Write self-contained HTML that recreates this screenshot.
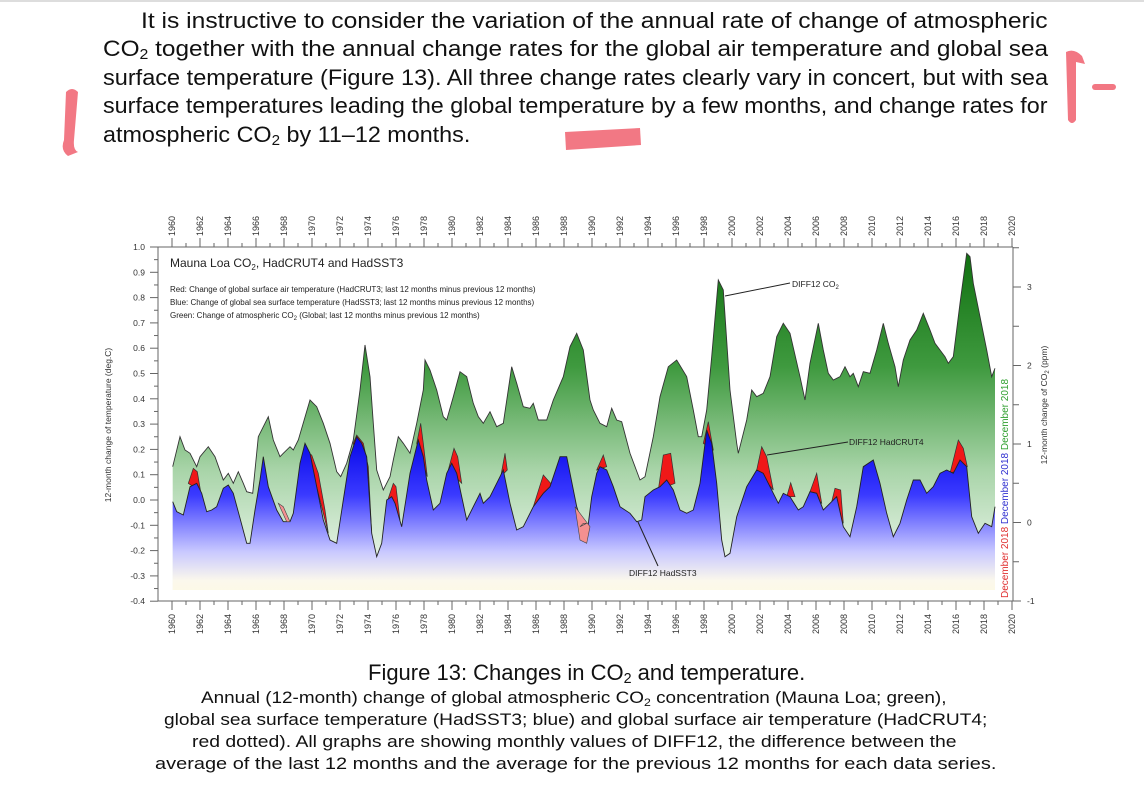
<!DOCTYPE html>
<html><head><meta charset="utf-8"><style>
body{margin:0;background:#fff;width:1144px;height:806px;overflow:hidden;position:relative;font-family:"Liberation Sans",sans-serif}
.ln{position:absolute;white-space:nowrap;transform-origin:0 0;color:#111;font-family:"Liberation Sans",sans-serif;line-height:1}
sub{font-size:65%;vertical-align:-3px;line-height:0}
</style></head><body>
<div style="position:absolute;left:0;top:0;width:1144px;height:2px;background:#ddd"></div>
<div class="ln" data-x="141" data-y="10" data-w="907" style="font-size:22px">It is instructive to consider the variation of the annual rate of change of atmospheric</div>
<div class="ln" data-x="103" data-y="38" data-w="945" style="font-size:22px">CO<sub>2</sub> together with the annual change rates for the global air temperature and global sea</div>
<div class="ln" data-x="103" data-y="67" data-w="945" style="font-size:22px">surface temperature (Figure 13). All three change rates clearly vary in concert, but with sea</div>
<div class="ln" data-x="103" data-y="95" data-w="945" style="font-size:22px">surface temperatures leading the global temperature by a few months, and change rates for</div>
<div class="ln" data-x="103" data-y="124" data-w="367" style="font-size:22px">atmospheric CO<sub>2</sub> by 11–12 months.</div>
<div class="ln" data-x="368" data-y="662" data-w="437" style="font-size:22px">Figure 13: Changes in CO<sub>2</sub> and temperature.</div>
<div class="ln" data-x="201" data-y="689" data-w="746" style="font-size:17px">Annual (12-month) change of global atmospheric CO<sub>2</sub> concentration (Mauna Loa; green),</div>
<div class="ln" data-x="164" data-y="711" data-w="823" style="font-size:17px">global sea surface temperature (HadSST3; blue) and global surface air temperature (HadCRUT4;</div>
<div class="ln" data-x="192" data-y="733" data-w="765" style="font-size:17px">red dotted). All graphs are showing monthly values of DIFF12, the difference between the</div>
<div class="ln" data-x="155" data-y="755" data-w="841" style="font-size:17px">average of the last 12 months and the average for the previous 12 months for each data series.</div>
<svg style="position:absolute;left:0;top:0" width="1144" height="806">
<g fill="#f0606e" opacity="0.85">
<path d="M66,92 Q72,86 78,92 L74,140 Q73,150 78,152 L68,156 Q60,150 64,140 Z"/>
<path d="M1066,52 Q1074,48 1082,56 L1085,64 L1076,62 L1076,120 Q1072,126 1068,120 Z"/>
<rect x="1092" y="84" width="24" height="6" rx="3"/>
<path d="M565,132 L640,128 L641,145 L566,150 Z"/>
</g>
<defs>
<linearGradient id="gg" x1="0" y1="247" x2="0" y2="590" gradientUnits="userSpaceOnUse">
<stop offset="0" stop-color="#0e6e0e"/><stop offset="0.35" stop-color="#3f9a3f"/><stop offset="0.65" stop-color="#a8d4a8"/><stop offset="0.9" stop-color="#e4f2e4"/><stop offset="1" stop-color="#f6fbf2"/></linearGradient>
<linearGradient id="bg" x1="0" y1="430" x2="0" y2="592" gradientUnits="userSpaceOnUse">
<stop offset="0" stop-color="#0000e6"/><stop offset="0.4" stop-color="#3a3aff"/><stop offset="0.75" stop-color="#c8c8ff"/><stop offset="0.93" stop-color="#fbf8ec"/><stop offset="1" stop-color="#fdf9e6"/></linearGradient>
</defs>
<g id="plot"></g>
<g id="axes" font-family="Liberation Sans,sans-serif" fill="#333"></g>
</svg>
<script>
document.querySelectorAll('.ln').forEach(function(e){var w=e.scrollWidth;e.style.left=e.dataset.x+'px';e.style.top=e.dataset.y+'px';e.style.transform='scaleX('+(e.dataset.w/w)+')';});
function cv(a,ox){var r=[];for(var i=0;i<a.length;i+=2)r.push([ox+a[i]/3,190+a[i+1]/3]);return r;}
var g=cv([248,830,270,740,285,780,300,790,320,830,330,800,355,770,375,800,400,870,415,850,430,880,445,845,460,880,470,905,488,910,505,740,535,680,550,750,570,800,580,790,600,770,610,780,625,750,660,630,680,650,700,700,720,760,740,845,752,860,770,820,790,750,810,600,825,465,840,560,850,700,860,840,880,900,900,860,910,810,925,740,940,760,960,790,980,700,1000,600,1005,510,1020,540,1040,600,1060,680,1070,690,1090,620,1110,545,1130,560,1150,640,1165,680,1180,700,1200,665,1220,710,1240,700,1265,530,1280,580,1300,650,1320,655,1330,640,1345,690,1370,690,1390,630,1420,560,1440,470,1460,430,1480,480,1500,630],90)
.concat(cv([40,660,60,700,80,710,95,655,110,690,125,695,150,790,180,870,195,860,220,740,240,620,265,530,290,510,320,560,340,660,355,740,365,740,380,660,395,500,415,270,430,300,450,600,470,760,475,790,500,690,515,600,530,620,550,610,570,560,590,440,610,400,630,430,660,560,675,630,690,520,715,400,730,480,745,550,760,570,780,560,795,530,810,560,820,550,835,590,850,545,870,550,890,480,910,400,925,460,945,530,955,590,970,510,990,450,1010,420,1030,370,1050,420,1065,460,1080,480,1095,500,1105,520,1120,500,1140,340,1160,190,1170,200,1180,280,1200,380,1220,480,1235,560,1245,535],580));
var b=cv([248,935,260,965,280,975,300,890,320,880,335,910,350,965,365,960,380,950,400,895,415,885,430,910,450,985,470,1060,480,1060,495,960,510,870,520,800,535,890,560,960,580,995,600,995,610,970,630,820,645,760,660,790,680,890,700,990,720,1050,740,1060,760,930,780,800,800,740,815,760,830,800,845,1030,860,1100,875,1060,890,930,905,920,915,940,935,1010,960,850,985,750,1000,800,1010,870,1030,960,1050,940,1070,850,1085,820,1100,850,1130,990,1150,950,1170,910,1180,940,1200,920,1230,860,1240,840,1260,940,1280,1020,1300,1010,1330,950,1360,910,1380,890,1410,800,1430,800,1460,950,1490,1040],90)
.concat(cv([35,920,50,850,60,830,80,840,100,890,120,950,150,970,170,995,185,990,195,920,220,900,240,890,260,870,280,900,300,960,320,970,340,960,360,880,380,720,395,760,410,880,425,1050,435,1100,450,1090,470,980,500,890,530,840,550,850,570,890,595,940,610,910,630,920,655,960,670,950,690,905,710,910,730,960,750,940,770,920,790,1010,810,1040,830,950,850,830,880,810,900,880,920,970,940,1040,960,1000,980,930,1000,870,1020,870,1040,910,1060,890,1080,850,1100,840,1120,850,1140,810,1160,830,1175,980,1195,1030,1215,1000,1235,1010,1245,950],580));
var bumps=[[90,[295,880,310,835,322,845,332,905]],[90,[655,790,665,795,685,850,705,960,715,1030]],[90,[790,760,800,735,820,760,835,830,845,1030]],[90,[895,925,910,880,918,890,930,990]],[90,[980,760,992,700,1000,760,1012,860]],[90,[1075,840,1092,775,1103,800,1115,880]],[90,[1232,860,1245,790,1252,840]],[90,[1330,950,1360,855,1382,880,1395,880]],[580,[50,840,70,795,80,830]],[580,[235,900,250,795,272,790,285,880]],[580,[370,760,385,695,400,780]],[580,[530,840,545,770,560,800,580,900]],[580,[620,920,632,878,645,920]],[580,[690,905,710,850,725,940]],[580,[755,935,765,895,782,900,790,1000]],[580,[1110,850,1135,750,1150,775,1162,830]]];
var pink=[[90,[565,940,580,950,600,995,590,995]],[90,[1455,950,1470,1050,1490,1060,1500,1010]],[580,[0,1010,10,1000,20,1000]]];
var B=590;
function poly(p){var s='M'+p[0][0]+','+B;p.forEach(function(q){s+=' L'+q[0].toFixed(1)+','+q[1].toFixed(1)});return s+' L'+p[p.length-1][0].toFixed(1)+','+B+' Z';}
function line(p){var s='M';p.forEach(function(q,i){s+=(i?' L':'')+q[0].toFixed(1)+','+q[1].toFixed(1)});return s;}
var h='<path d="'+poly(g)+'" fill="url(#gg)"/><path d="'+line(g)+'" fill="none" stroke="#333" stroke-width="0.9"/>';
bumps.forEach(function(bb){var p=cv(bb[1],bb[0]);h+='<path d="'+line(p)+' Z" fill="#f01818" stroke="#333" stroke-width="0.7"/>';});
h+='<path d="'+poly(b)+'" fill="url(#bg)"/><path d="'+line(b)+'" fill="none" stroke="#222" stroke-width="0.9"/>';
pink.forEach(function(bb){var p=cv(bb[1],bb[0]);h+='<path d="'+line(p)+' Z" fill="#f49090" stroke="#444" stroke-width="0.6"/>';});
document.getElementById('plot').innerHTML=h;
var a='';
var L=158,R=1013,T=247,Bt=601;
a+='<path d="M'+L+','+T+' L'+L+','+Bt+' M'+R+','+T+' L'+R+','+Bt+' M'+L+','+T+' L'+R+','+T+' M'+L+','+Bt+' L'+R+','+Bt+'" stroke="#666" stroke-width="1" fill="none"/>';
for(var i=0;i<=14;i++){var v=1-i*0.1,y=T+i*25.3;a+='<line x1="'+(L-8)+'" x2="'+L+'" y1="'+y+'" y2="'+y+'" stroke="#666"/>';if(i<14)a+='<line x1="'+(L-4)+'" x2="'+L+'" y1="'+(y+12.65)+'" y2="'+(y+12.65)+'" stroke="#666"/>';a+='<text x="'+(L-13)+'" y="'+(y+3)+'" font-size="8.5" text-anchor="end">'+(Math.abs(v)<1e-9?'0.0':v.toFixed(1))+'</text>';}
var vals=[3,2,1,0,-1];for(var k=0;k<5;k++){var y=287+k*78.5;a+='<line x1="'+R+'" x2="'+(R+8)+'" y1="'+y+'" y2="'+y+'" stroke="#666"/>';a+='<text x="'+(R+14)+'" y="'+(y+3)+'" font-size="8.5">'+vals[k]+'</text>';}
for(var k=0;k<8;k++){var y=287-39.25+k*78.5;if(y>T&&y<Bt)a+='<line x1="'+R+'" x2="'+(R+6)+'" y1="'+y+'" y2="'+y+'" stroke="#666"/>';}
for(var yr=1960;yr<=2020;yr++){var x=172+(yr-1960)*14;var mj=yr%2==0;a+='<line x1="'+x+'" x2="'+x+'" y1="'+(T-(mj?9:4))+'" y2="'+T+'" stroke="#666"/><line x1="'+x+'" x2="'+x+'" y1="'+Bt+'" y2="'+(Bt+(mj?9:4))+'" stroke="#666"/>';
if(mj){a+='<text transform="translate('+(x+3)+',236) rotate(-90)" font-size="9">'+yr+'</text>';a+='<text transform="translate('+(x+3)+',614) rotate(-90)" font-size="9" text-anchor="end">'+yr+'</text>';}}
a+='<text transform="translate(111,425) rotate(-90)" font-size="8.5" text-anchor="middle">12-month change of temperature (deg.C)</text>';
a+='<text transform="translate(1047,405) rotate(-90)" font-size="8.5" text-anchor="middle">12-month change of CO<tspan font-size="6" dy="2">2</tspan><tspan dy="-2"> (ppm)</tspan></text>';
a+='<text transform="translate(1008,598) rotate(-90)" font-size="10"><tspan fill="#e03030">December 2018 </tspan><tspan fill="#3030d0">December 2018 </tspan><tspan fill="#30a030">December 2018</tspan></text>';
a+='<text x="170" y="267" font-size="12" fill="#222">Mauna Loa CO<tspan font-size="8" dy="3">2</tspan><tspan dy="-3">, HadCRUT4 and HadSST3</tspan></text>';
a+='<text x="170" y="292" font-size="8" fill="#222">Red: Change of global surface air temperature (HadCRUT3; last 12 months minus previous 12 months)</text>';
a+='<text x="170" y="305" font-size="8" fill="#222">Blue: Change of global sea surface temperature (HadSST3; last 12 months minus previous 12 months)</text>';
a+='<text x="170" y="318" font-size="8" fill="#222">Green: Change of atmospheric CO<tspan font-size="6" dy="2">2</tspan><tspan dy="-2"> (Global; last 12 months minus previous 12 months)</tspan></text>';
a+='<line x1="725" y1="296" x2="790" y2="283" stroke="#222"/><text x="792" y="287" font-size="8.5" fill="#222">DIFF12 CO<tspan font-size="6" dy="2">2</tspan></text>';
a+='<line x1="767" y1="455" x2="848" y2="442" stroke="#222"/><text x="849" y="445" font-size="8.5" fill="#222">DIFF12 HadCRUT4</text>';
a+='<line x1="638" y1="522" x2="658" y2="566" stroke="#222"/><text x="629" y="576" font-size="8.5" fill="#222">DIFF12 HadSST3</text>';
document.getElementById('axes').innerHTML=a;
</script>
</body></html>
